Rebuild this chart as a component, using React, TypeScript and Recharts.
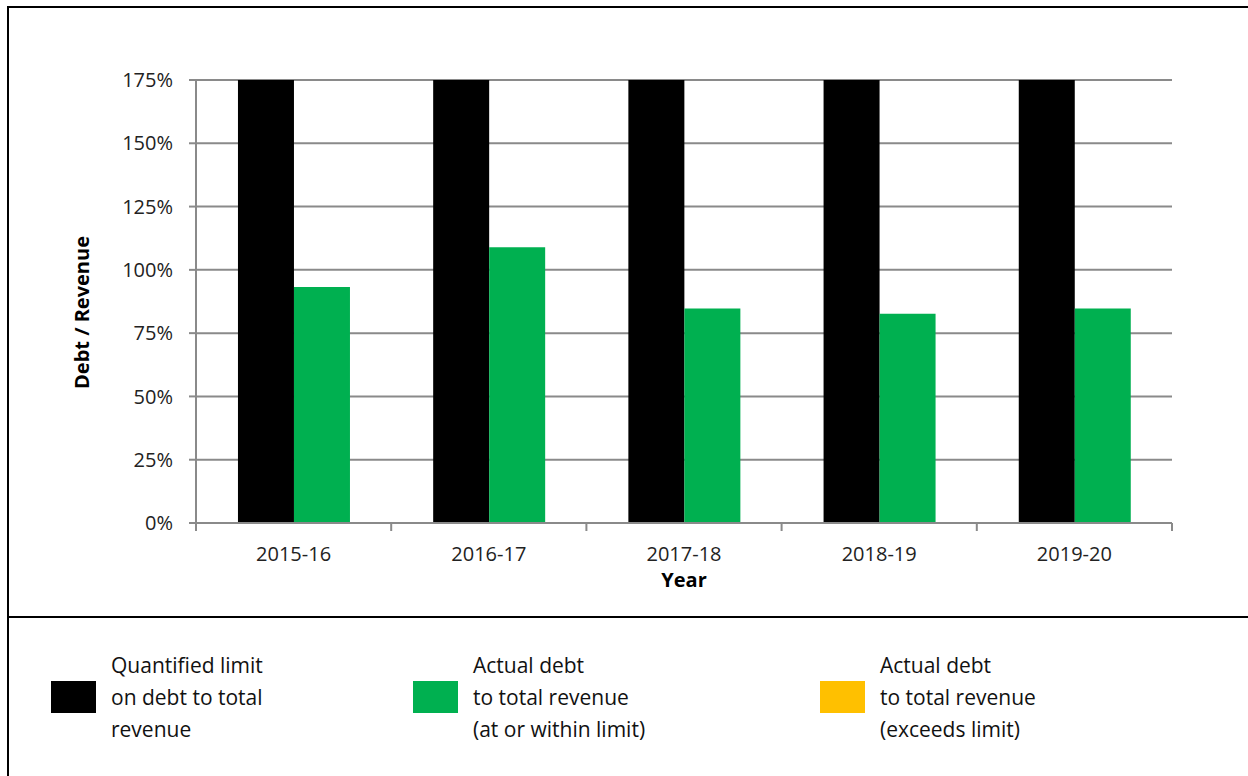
import { BarChart, Bar, XAxis, YAxis, CartesianGrid } from 'recharts';

const categories = ['2015-16', '2016-17', '2017-18', '2018-19', '2019-20'];
const limitValues = [175, 175, 175, 175, 175];
const withinValues = [93.2, 108.9, 84.7, 82.7, 84.7];
const exceedsValues = [0, 0, 0, 0, 0];
const yTicks = [0, 25, 50, 75, 100, 125, 150, 175];

const legendItems = [
  { color: '#000000', lines: ['Quantified limit', 'on debt to total', 'revenue'], left: 51 },
  { color: '#00B050', lines: ['Actual debt', 'to total revenue', '(at or within limit)'], left: 413 },
  { color: '#FFC000', lines: ['Actual debt', 'to total revenue', '(exceeds limit)'], left: 820 },
];

const data = categories.map((name, i) => ({
  name,
  limit: limitValues[i],
  within: withinValues[i],
  exceeds: exceedsValues[i],
}));

const FONT = '"Open Sans", sans-serif';
const GRID = '#8a8a8a';

// category label in the band centre, tick marks on the band edges
const CatTick = (props: any) => {
  const { x, y, payload, index, width, visibleTicksCount } = props;
  const half = width / visibleTicksCount / 2;
  return (
    <g>
      <line x1={x - half} y1={y} x2={x - half} y2={y + 8} stroke={GRID} strokeWidth={2} />
      {index === visibleTicksCount - 1 && (
        <line x1={x + half} y1={y} x2={x + half} y2={y + 8} stroke={GRID} strokeWidth={2} />
      )}
      <text x={x} y={y + 38} textAnchor="middle" fontFamily={FONT} fontSize={20} fill="#222">
        {payload.value}
      </text>
    </g>
  );
};

const YLabel = (props: any) => {
  const vb = props.viewBox;
  const cx = vb.x + 89;
  const cy = vb.y + vb.height / 2 + 11;
  return (
    <text
      x={cx}
      y={cy}
      transform={`rotate(-90 ${cx} ${cy})`}
      textAnchor="middle"
      fontFamily={FONT}
      fontSize={20}
      fontWeight={700}
      fill="#000"
    >
      Debt / Revenue
    </text>
  );
};

const XLabel = (props: any) => {
  const vb = props.viewBox;
  return (
    <text
      x={vb.x + vb.width / 2}
      y={vb.y + 64}
      textAnchor="middle"
      fontFamily={FONT}
      fontSize={20}
      fontWeight={700}
      fill="#000"
    >
      Year
    </text>
  );
};

export default function App() {
  return (
    <div style={{ position: 'absolute', left: 0, top: 0, width: 1248, height: 776, background: '#fff', overflow: 'hidden' }}>
      <div style={{ position: 'absolute', left: 7, top: 6, width: 1241, height: 770, borderTop: '2px solid #000', borderLeft: '2px solid #000', boxSizing: 'border-box' }} />
      <div style={{ position: 'absolute', left: 7, top: 616, width: 1241, borderTop: '2px solid #000' }} />
      <div style={{ position: 'absolute', left: 0, top: 0 }}>
        <BarChart
          width={1248}
          height={610}
          data={data}
          margin={{ top: 80, right: 76, bottom: 0, left: 0 }}
          barCategoryGap="21.5%"
          barGap={0}
        >
          <CartesianGrid vertical={false} stroke={GRID} strokeWidth={2} />
          <XAxis
            dataKey="name"
            interval={0}
            height={87}
            tickSize={0}
            tickMargin={0}
            tickLine={false}
            axisLine={{ stroke: GRID, strokeWidth: 2 }}
            tick={<CatTick />}
            label={<XLabel />}
          />
          <YAxis
            width={196}
            domain={[0, 175]}
            ticks={yTicks}
            interval={0}
            tickFormatter={(v: number) => `${v}%`}
            tickSize={7}
            tickMargin={16}
            axisLine={{ stroke: GRID, strokeWidth: 2 }}
            tickLine={{ stroke: GRID, strokeWidth: 2 }}
            tick={{ fontFamily: FONT, fontSize: 20, fill: '#222' }}
            label={<YLabel />}
          />
          <Bar dataKey="limit" stackId="limit" fill="#000000" isAnimationActive={false} />
          <Bar dataKey="within" stackId="actual" fill="#00B050" isAnimationActive={false} />
          <Bar dataKey="exceeds" stackId="actual" fill="#FFC000" isAnimationActive={false} />
        </BarChart>
      </div>
      {legendItems.map((item) => (
        <div key={item.left} style={{ position: 'absolute', left: item.left, top: 649, display: 'flex', alignItems: 'center' }}>
          <div style={{ width: 45, height: 32, background: item.color, marginRight: 15 }} />
          <div style={{ fontFamily: FONT, fontSize: 21, lineHeight: '32px', color: '#111' }}>
            {item.lines.map((l) => (
              <div key={l}>{l}</div>
            ))}
          </div>
        </div>
      ))}
    </div>
  );
}
